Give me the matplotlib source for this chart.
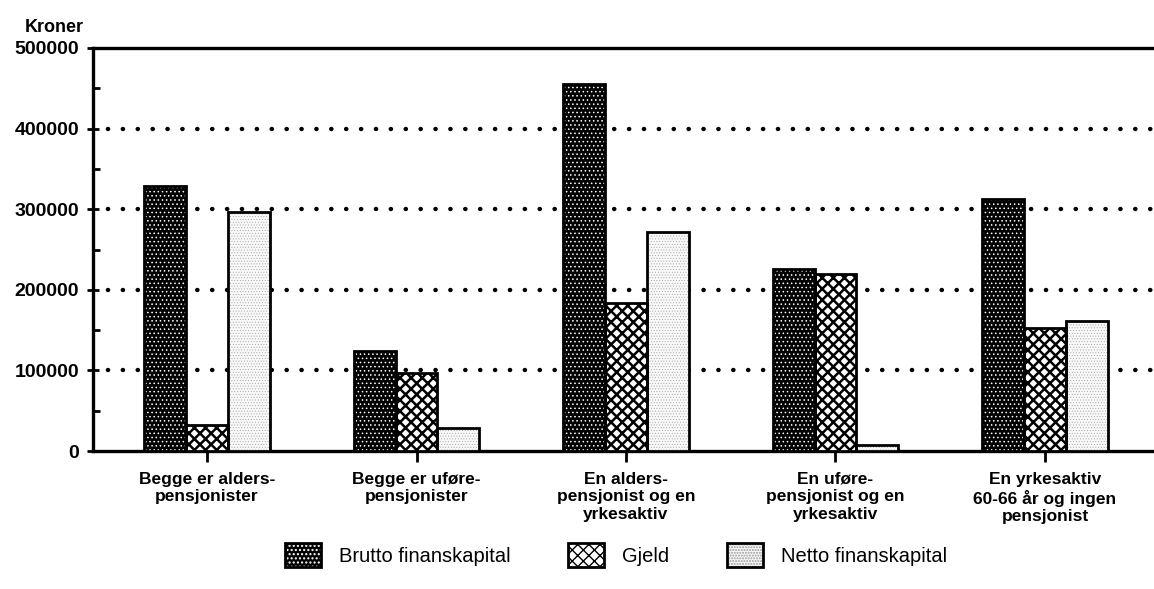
import numpy as np
import matplotlib
matplotlib.use("Agg")
import matplotlib.pyplot as plt

# categories and values (kroner)
groups = ["Begge er alders-\npensjonister",
          "Begge er uføre-\npensjonister",
          "En alders-\npensjonist og en\nyrkesaktiv",
          "En uføre-\npensjonist og en\nyrkesaktiv",
          "En yrkesaktiv\n60-66 år og ingen\npensjonist"]
brutto = [329000, 124000, 455000, 226000, 313000]
gjeld = [32000, 97000, 184000, 219000, 153000]
netto = [297000, 29000, 272000, 7000, 161000]
series_names = ["Brutto finanskapital", "Gjeld", "Netto finanskapital"]
yticks = [0, 100000, 200000, 300000, 400000, 500000]

plt.rcParams['font.family'] = ['Liberation Sans', 'DejaVu Sans']

fig = plt.figure(figsize=(11.54, 5.89), dpi=100)
ax = fig.add_axes([93 / 1154, 1 - 451 / 589, 1 - 93 / 1154, (451 - 48) / 589])

x = np.arange(len(groups))
w = 0.2


def hatched_bar(xpos, vals, face, hcolor, hatch, hlw):
    with plt.rc_context({'hatch.linewidth': hlw}):
        fill = ax.bar(xpos, vals, w, color=face, edgecolor=hcolor, hatch=hatch, lw=0, zorder=3)
    for p in fill:
        if hasattr(p, 'set_hatch_linewidth'):
            p.set_hatch_linewidth(hlw)
    edge = ax.bar(xpos, vals, w, fill=False, edgecolor='black', lw=2, zorder=4)
    return fill, edge


# brutto: black with small white dots
b1, b1e = hatched_bar(x - w, brutto, 'black', 'white', '....', 0.6)
# gjeld: white with heavy black crosshatch
b2, b2e = hatched_bar(x, gjeld, 'white', 'black', 'xxx', 1.8)
# netto: very light fine dots
b3, b3e = hatched_bar(x + w, netto, '#f8f8f8', '#9a9a9a', '......', 0.3)

ax.set_xlim((93 - 207) / 209.5, (1154 - 207) / 209.5)
ax.set_ylim(0, 500000)

for v in yticks[1:-1]:
    ax.axhline(v, color='black', lw=3.2, linestyle=(0, (0.05, 3.3)),
               dash_capstyle='round', zorder=1)

ax.set_yticks(yticks)
ax.set_yticklabels([str(v) for v in yticks], fontsize=14, fontweight='bold')
ax.set_yticks([50000, 150000, 250000, 350000, 450000], minor=True)
ax.tick_params(axis='y', which='major', direction='inout', length=8, width=2, pad=6)
ax.tick_params(axis='y', which='minor', direction='in', length=5, width=2)

ax.set_xticks(x)
ax.set_xticklabels(groups, fontsize=12.5, fontweight='bold', linespacing=1.2)
ax.tick_params(axis='x', direction='out', length=8, width=2, pad=7)

for s in ['left', 'top', 'bottom']:
    ax.spines[s].set_linewidth(2.4)
ax.spines['right'].set_visible(False)

fig.text(25 / 1154, 1 - 27 / 589, "Kroner", fontsize=13, fontweight='bold', va='center')

leg = fig.legend([(b1[0], b1e[0]), (b2[0], b2e[0]), (b3[0], b3e[0])], series_names,
                 loc='center', bbox_to_anchor=(616 / 1154, 1 - 555 / 589), ncol=3,
                 frameon=False, fontsize=14.5, handlelength=1.8, handleheight=1.5,
                 columnspacing=2.85, handletextpad=0.9)

fig.savefig("out.png", dpi=100)
